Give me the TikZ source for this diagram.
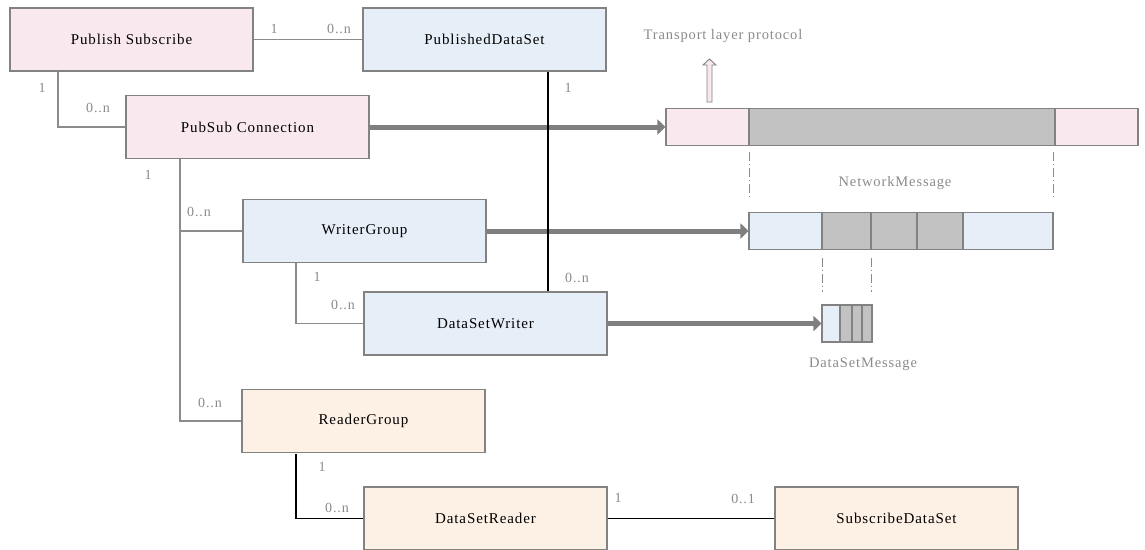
\documentclass[tikz,border=0pt]{standalone}
\usepackage{fontspec}
\setmainfont{Liberation Serif}[LetterSpace=6]
\usetikzlibrary{arrows.meta}

\definecolor{pinkfill}{HTML}{F9E9EE}
\definecolor{bluefill}{HTML}{E6EEF8}
\definecolor{peachfill}{HTML}{FDF0E4}
\definecolor{edgegray}{HTML}{828282}
\definecolor{segfill}{HTML}{C2C2C2}
\definecolor{linkgray}{HTML}{8C8C8C}
\definecolor{labelgray}{HTML}{8A8A8A}
\definecolor{flowgray}{HTML}{7F7F7F}

\tikzset{
  classbox/.style={draw=edgegray, line width=1.1pt, minimum width=243pt,
    minimum height=63pt, inner sep=0pt, font=\fontsize{15}{17}\selectfont},
  seg/.style={draw=edgegray, line width=1.1pt, inner sep=0pt, minimum height=37pt},
  link/.style={draw=linkgray, line width=1.1pt},
  strong/.style={draw=black, line width=1.1pt},
  mult/.style={text=labelgray, inner sep=0pt, font=\fontsize{14}{16}\selectfont},
  caption/.style={text=labelgray, inner sep=0pt, font=\fontsize{14.5}{16}\selectfont},
  flow/.style={draw=flowgray, line width=5pt, -{Triangle[length=8pt,width=15pt]}},
  cut/.style={draw=labelgray, line width=1pt, dash pattern=on 9pt off 3pt on 1pt off 3pt}
}

\begin{document}
\begin{tikzpicture}[x=1pt, y=-1pt]
\useasboundingbox (0,0) rectangle (1145,549);

% class boxes
\node[classbox, fill=pinkfill]  (ps)  at (131.5,39.5)  {Publish Subscribe};
\node[classbox, fill=bluefill]  (pds) at (484.5,39.5)  {PublishedDataSet};
\node[classbox, fill=pinkfill]  (psc) at (247.5,127)   {PubSub Connection};
\node[classbox, fill=bluefill]  (wg)  at (364.5,231)   {WriterGroup};
\node[classbox, fill=bluefill]  (dsw) at (485.5,323.5) {DataSetWriter};
\node[classbox, fill=peachfill] (rg)  at (363.5,421)   {ReaderGroup};
\node[classbox, fill=peachfill] (dsr) at (485.5,518.5) {DataSetReader};
\node[classbox, fill=peachfill] (sds) at (896.5,518.5) {SubscribeDataSet};

% NetworkMessage
\node[seg, fill=pinkfill, minimum width=83pt]  (nmh) at (707.5,127) {};
\node[seg, fill=segfill,  minimum width=306pt] (nmb) at (902,127)   {};
\node[seg, fill=pinkfill, minimum width=83pt]  (nmt) at (1096.5,127) {};

% WriterGroup message
\node[seg, fill=bluefill, minimum width=73pt] (wgh) at (785.5,231) {};
\node[seg, fill=segfill,  minimum width=49pt] (wg1) at (846.5,231) {};
\node[seg, fill=segfill,  minimum width=46pt] (wg2) at (894,231)   {};
\node[seg, fill=segfill,  minimum width=46pt] (wg3) at (940,231)   {};
\node[seg, fill=bluefill, minimum width=90pt] (wgt) at (1008,231)  {};

% DataSetMessage
\node[seg, fill=bluefill, minimum width=18pt] (dmh) at (831,323.5) {};
\node[seg, fill=segfill,  minimum width=12pt] (dm1) at (846,323.5) {};
\node[seg, fill=segfill,  minimum width=10pt] (dm2) at (857,323.5) {};
\node[seg, fill=segfill,  minimum width=10pt] (dm3) at (867,323.5) {};

% data flow arrows
\draw[flow] (psc.east) -- (nmh.west);
\draw[flow] (wg.east) -- (wgh.west);
\draw[flow] (dsw.east) -- (dmh.west);

% associations
\draw[link] (ps.east) -- (pds.west);
\node[mult] at (274,29) {1};
\node[mult] at (339,29) {0..n};

\coordinate (psdown) at (58,71);
\draw[link] (psdown) |- (psc.west);
\node[mult] at (42,88) {1};
\node[mult] at (98,108) {0..n};

\coordinate (pscdown) at (180,159);
\draw[link] (pscdown) |- (rg.west);
\draw[link] (180,231) -- (wg.west);
\node[mult] at (148,175) {1};
\node[mult] at (199,212) {0..n};
\node[mult] at (210,403) {0..n};

\coordinate (wgdown) at (296,262.5);
\draw[link] (wgdown) |- (dsw.west);
\node[mult] at (317,277) {1};
\node[mult] at (343,305) {0..n};

\draw[strong] (pds.south -| 548,0) -- (dsw.north -| 548,0);
\node[mult] at (568,88) {1};
\node[mult] at (577,278) {0..n};

\coordinate (rgdown) at (296,454);
\draw[strong] (rgdown) |- (dsr.west);
\node[mult] at (322,467) {1};
\node[mult] at (337,508) {0..n};

\draw[strong] (dsr.east) -- (sds.west);
\node[mult] at (618,498) {1};
\node[mult] at (743,499) {0..1};

% dash-dot extent marks
\draw[cut] (749,152) -- (749,200);
\draw[cut] (1053,152) -- (1053,200);
\draw[cut] (822,258) -- (822,292);
\draw[cut] (871,258) -- (871,292);

\node[caption] (nmcap) at (895,183) {NetworkMessage};
\node[caption] (dmcap) at (863,364) {DataSetMessage};

% transport layer hollow arrow
\draw[draw=edgegray, fill=pinkfill, line width=0.9pt]
  (707,102) -- (707,65) -- (703,65) -- (709.5,59) -- (716,65) -- (712,65) -- (712,102) -- cycle;
\node[caption] (tlp) at (723,36) {Transport layer protocol};
\end{tikzpicture}
\end{document}
